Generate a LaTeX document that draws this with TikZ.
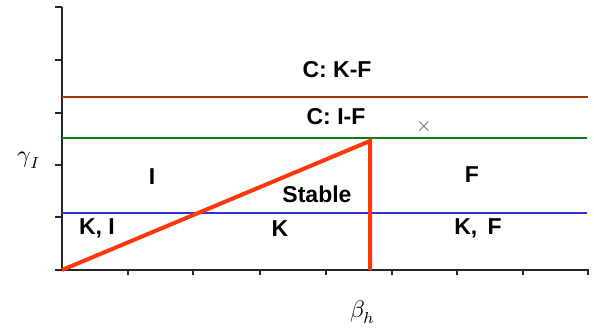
\documentclass[tikz,border=0pt]{standalone}
\usepackage{fontspec}
\setmainfont{Liberation Sans}
\usepackage{unicode-math}
\setmathfont{Latin Modern Math}
\begin{document}
\begin{tikzpicture}[x=0.5pt,y=-0.5pt,
    region label/.style={font=\fontsize{11.5}{13}\selectfont\bfseries, inner sep=0pt},
    axis label/.style={font=\fontsize{12}{14}\selectfont, inner sep=0pt},
    boundary/.style={line width=1.3pt, draw=#1}
]
\useasboundingbox (0,0) rectangle (594,327);
% Stability regions in the (beta_h, gamma_I) plane
\coordinate (o) at (62,270);
\coordinate (ytop) at (62,7);
\coordinate (xend) at (589,270);
\coordinate (peak) at (370,141);
\coordinate (foot) at (370,270);

\draw[line width=1.1pt, black!85] (ytop) -- (o) -- (xend);
\foreach \y in {7,60,113,165,217,270}
    \draw[line width=0.9pt, black!85] (55,\y) -- (62,\y);
\foreach \x in {128,193,260,326,392,457,523,588}
    \draw[line width=0.9pt, black!85] (\x,270) -- (\x,275);

\coordinate (kf0) at (62,97);  \coordinate (kf1) at (588,97);
\coordinate (if0) at (62,138); \coordinate (if1) at (587,138);
\coordinate (ki0) at (62,213); \coordinate (ki1) at (587,213);
\definecolor{kfbrown}{RGB}{165,55,15}
\definecolor{ifgreen}{RGB}{10,125,20}
\definecolor{kiblue}{RGB}{50,50,205}
\definecolor{stabred}{RGB}{255,55,10}
\draw[boundary=kfbrown] (kf0) -- (kf1);
\draw[boundary=ifgreen] (if0) -- (if1);
\draw[boundary=kiblue] (ki0) -- (ki1);
\draw[line width=2pt, stabred] (o) -- (peak) -- (foot);

\node[region label] (ckf) at (337,70) {C: K-F};
\node[region label] (cif) at (336,117) {C: I-F};
\node[text=black!70, inner sep=0pt, font=\fontsize{10}{12}\selectfont] (cross) at (424,127) {$\times$};
\node[region label] (i) at (152,177) {I};
\node[region label] (stable) at (317,194) {Stable};
\node[region label] (f) at (472,175) {F};
\node[region label] (ki) at (97,228) {K, I};
\node[region label] (k) at (280,229) {K};
\node[region label] (kfr) at (478,228) {K, \,F};

\node[axis label] (gam) at (29,160) {$\gamma_{I}$};
\node[axis label] (bet) at (363,312) {$\beta_{h}$};
\end{tikzpicture}
\end{document}
